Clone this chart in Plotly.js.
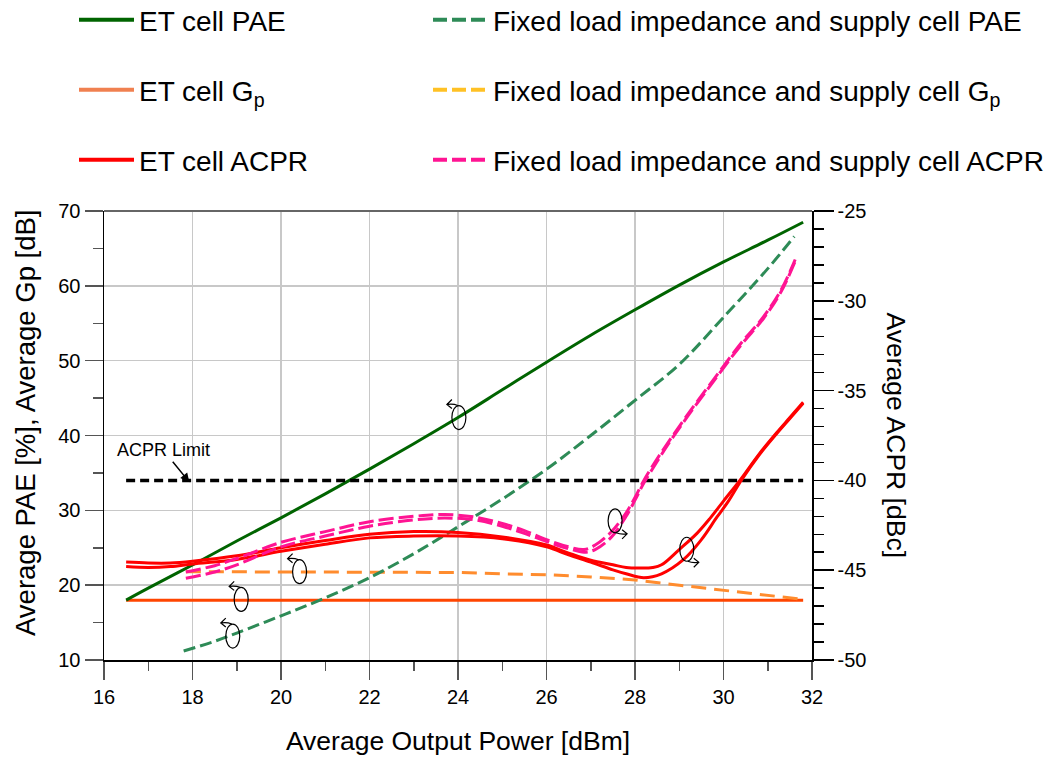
<!DOCTYPE html>
<html>
<head>
<meta charset="utf-8">
<script src="https://cdn.plot.ly/plotly-3.0.1.min.js"></script>
<style>html,body{margin:0;padding:0;background:#fff;}#chart{width:1062px;height:758px;}</style>
</head>
<body>
<div id="chart"></div>
<script>
// ---------- data ----------
const etPaeX = [16.5, 17, 18, 19, 20, 21, 22, 23, 24, 25, 26, 27, 28, 29, 30, 31, 31.8];
const etPaeY = [18.0, 19.6, 22.7, 25.9, 29.0, 32.2, 35.5, 38.9, 42.4, 46.1, 49.8, 53.4, 56.8, 60.1, 63.2, 66.1, 68.5];

const fixPaeX = [17.8, 18.5, 19, 20, 21, 22, 23, 24, 25, 26, 27, 28, 29, 30, 31, 31.6];
const fixPaeY = [11.2, 12.5, 13.6, 15.9, 18.3, 21.0, 24.2, 27.8, 31.5, 35.5, 40.0, 44.7, 49.5, 55.8, 62.3, 66.6];

const etGpX = [16.5, 31.8];
const etGpY = [18.0, 18.0];

const fixGpX = [17.85, 19, 20, 21, 22, 23, 24, 25, 26, 27, 28, 29, 30, 31, 31.8];
const fixGpY = [21.8, 21.8, 21.8, 21.8, 21.8, 21.8, 21.7, 21.5, 21.4, 21.1, 20.7, 20.0, 19.3, 18.6, 18.1];

const etAcprAX = [16.5, 17, 17.5, 18, 19, 20, 21, 22, 23, 24, 25, 26, 26.5, 27, 27.5, 27.8, 28.1, 28.4, 28.6, 29, 29.4, 29.7, 30, 30.4, 30.8, 31.2, 31.5, 31.8];
const etAcprAY = [-44.55, -44.6, -44.6, -44.5, -44.2, -43.75, -43.35, -43.0, -42.85, -42.9, -43.15, -43.6, -44.05, -44.45, -44.7, -44.85, -44.88, -44.85, -44.7, -43.85, -42.95, -42.1, -41.15, -39.9, -38.55, -37.35, -36.5, -35.65];

const etAcprBX = [16.5, 17, 17.5, 18, 19, 20, 21, 22, 23, 24, 25, 26, 26.5, 27, 27.5, 27.8, 28.2, 28.6, 29.1, 29.5, 29.85, 30.1, 30.4, 30.8, 31.2, 31.5, 31.8];
const etAcprBY = [-44.8, -44.85, -44.8, -44.65, -44.4, -43.95, -43.55, -43.2, -43.1, -43.1, -43.25, -43.7, -44.15, -44.55, -44.98, -45.2, -45.42, -45.2, -44.4, -43.3, -42.05, -41.2, -40.0, -38.6, -37.4, -36.55, -35.7];

const fixAcprX = [17.85, 18.5, 19, 20, 21, 22, 23, 23.7, 24.4, 25, 25.5, 26, 26.5, 26.85, 27.1, 27.45, 27.8, 28.0, 28.2, 28.5, 28.8, 29.2, 29.8, 30.4, 30.9, 31.3, 31.62];
const fixAcprAY = [-45.1, -44.75, -44.35, -43.45, -42.85, -42.3, -42.0, -41.9, -42.05, -42.4, -42.8, -43.3, -43.7, -43.85, -43.6, -42.9, -41.8, -40.95, -40.0, -38.8, -37.7, -36.3, -34.3, -32.35, -30.9, -29.4, -27.7];
const fixAcprBY = [-45.45, -45.1, -44.7, -43.7, -43.1, -42.55, -42.2, -42.1, -42.2, -42.55, -42.95, -43.4, -43.8, -44.0, -43.85, -43.2, -42.0, -41.1, -40.15, -38.95, -37.8, -36.4, -34.4, -32.45, -31.0, -29.5, -27.8];

const limitX = [16.5, 31.8];
const limitY = [-40, -40];

const xTicks = [16, 18, 20, 22, 24, 26, 28, 30, 32];
const leftTicks = [10, 20, 30, 40, 50, 60, 70];
const rightTicks = [-50, -45, -40, -35, -30, -25];
const rightTickText = ['-50', '-45', '-40', '-35', '-30', '-25'];

const legendNames = [
  'ET cell PAE', 'Fixed load impedance and supply cell PAE',
  'ET cell G<sub>p</sub>', 'Fixed load impedance and supply cell G<sub>p</sub>',
  'ET cell ACPR', 'Fixed load impedance and supply cell ACPR'
];

// ---------- styling ----------
const FONT = 'Liberation Sans, Arial, sans-serif';
const C = {
  etPae: '#006400', fixPae: '#2E8B57',
  etGp: '#FF4500', fixGp: '#FF8C2E',
  etAcpr: '#FF0000', fixAcpr: '#FF1493'
};
const LEG = ['#006400', '#2E8B57', '#F08050', '#FFC125', '#FF0000', '#FF1493'];
const LEGDASH = ['solid', 'dash', 'solid', 'dash', 'solid', 'dash'];

const traces = [
  {x: etGpX, y: etGpY, mode: 'lines', line: {color: C.etGp, width: 3}, showlegend: false},
  {x: fixGpX, y: fixGpY, mode: 'lines', line: {color: C.fixGp, width: 3, dash: '15px,8px'}, showlegend: false},
  {x: fixPaeX, y: fixPaeY, mode: 'lines', line: {color: C.fixPae, width: 3, dash: '12px,5px', shape: 'spline'}, showlegend: false},
  {x: etPaeX, y: etPaeY, mode: 'lines', line: {color: C.etPae, width: 3, shape: 'spline'}, showlegend: false},
  {x: limitX, y: limitY, yaxis: 'y2', mode: 'lines', line: {color: '#000', width: 3.5, dash: '9px,5px'}, showlegend: false},
  {x: etAcprAX, y: etAcprAY, yaxis: 'y2', mode: 'lines', line: {color: C.etAcpr, width: 3, shape: 'spline'}, showlegend: false},
  {x: etAcprBX, y: etAcprBY, yaxis: 'y2', mode: 'lines', line: {color: C.etAcpr, width: 3, shape: 'spline'}, showlegend: false},
  {x: fixAcprX, y: fixAcprAY, yaxis: 'y2', mode: 'lines', line: {color: C.fixAcpr, width: 3, dash: '15px,5px', shape: 'spline'}, showlegend: false},
  {x: fixAcprX, y: fixAcprBY, yaxis: 'y2', mode: 'lines', line: {color: C.fixAcpr, width: 3, dash: '15px,5px', shape: 'spline'}, showlegend: false}
];

// legend entries: one legend per entry, laid out as 3 rows x 2 columns
const legendIds = ['legend', 'legend2', 'legend3', 'legend4', 'legend5', 'legend6'];
const legendColPx = [74, 428];
const legendRowPx = [20, 90, 160];
legendNames.forEach((n, i) => {
  traces.push({x: [null], y: [null], mode: 'lines', name: n, legend: legendIds[i],
    line: {color: LEG[i], width: 4, dash: LEGDASH[i] === 'dash' ? '14px,5px' : 'solid'}, showlegend: true});
});

function legendAt(xPx, yPx) {
  return {orientation: 'h', xref: 'container', yref: 'container', x: xPx / 1062, y: 1 - yPx / 758,
    xanchor: 'left', yanchor: 'middle', itemwidth: 55,
    bgcolor: 'rgba(0,0,0,0)', font: {family: FONT, size: 28, color: '#000'}};
}

// rotating-arrow markers
const markers = [
  {x: 24.02, y: 42.4, dir: 'L'},
  {x: 20.42, y: 21.8, dir: 'L'},
  {x: 19.1, y: 18.1, dir: 'L'},
  {x: 18.91, y: 13.2, dir: 'L'},
  {x: 27.55, y: 28.6, dir: 'R'},
  {x: 29.17, y: 24.8, dir: 'R'}
];
const shapes = [
  {type: 'line', xref: 'paper', yref: 'paper', x0: 0, x1: 1, y0: 1, y1: 1, line: {color: '#666', width: 2}}
];
markers.forEach(m => {
  const base = {xref: 'x', yref: 'y', xsizemode: 'pixel', ysizemode: 'pixel', xanchor: m.x, yanchor: m.y,
    line: {color: '#000', width: 1.2}};
  shapes.push(Object.assign({type: 'circle', x0: -7, x1: 7, y0: -12, y1: 12}, base));
  const p = m.dir === 'L'
    ? 'M-1,12 Q-6,14 -12,13 M-7,18 L-12,13 L-7,9'
    : 'M1,-12 Q6,-14 12,-13 M7,-9 L12,-13 L7,-18';
  shapes.push(Object.assign({type: 'path', path: p}, base));
});

const axisCommon = {
  showline: true, linecolor: '#000', linewidth: 1.5, zeroline: false,
  ticks: 'outside', tickcolor: '#555', tickwidth: 1.5,
  tickfont: {family: FONT, size: 20, color: '#000'}
};

const layout = {
  width: 1062, height: 758,
  margin: {l: 104, r: 250, t: 211, b: 98},
  paper_bgcolor: '#fff', plot_bgcolor: '#fff',
  font: {family: FONT, color: '#000'},
  showlegend: true,
  xaxis: Object.assign({}, axisCommon, {
    range: [16, 32], tickmode: 'array', tickvals: xTicks, ticklen: 18,
    showgrid: true, gridcolor: '#C8C8C8', gridwidth: 1.5,
    minor: {dtick: 1, tick0: 16, ticklen: 9, tickcolor: '#555', tickwidth: 1.5, showgrid: false},
    title: {text: 'Average Output Power [dBm]', font: {family: FONT, size: 26.5, color: '#000'}, standoff: 25}
  }),
  yaxis: Object.assign({}, axisCommon, {
    range: [10, 70], tickmode: 'array', tickvals: leftTicks, ticklen: 18,
    showgrid: true, gridcolor: '#C8C8C8', gridwidth: 1.5,
    minor: {dtick: 5, tick0: 10, ticklen: 10, tickcolor: '#555', tickwidth: 1.5, showgrid: false}
  }),
  yaxis2: Object.assign({}, axisCommon, {
    overlaying: 'y', side: 'right', range: [-50, -25],
    tickmode: 'array', tickvals: rightTicks, ticktext: rightTickText, ticklen: 20, tickcolor: '#000',
    showgrid: false,
    minor: {dtick: 1, tick0: -50, ticklen: 10, tickcolor: '#000', tickwidth: 1.5, showgrid: false}
  }),
  shapes: shapes,
  annotations: [
    {xref: 'paper', yref: 'paper', x: (25 - 104) / 708, y: (660 - 423) / 449, text: 'Average PAE [%], Average Gp [dB]', textangle: -90,
     showarrow: false, font: {family: FONT, size: 27.5, color: '#000'}, xanchor: 'center', yanchor: 'middle'},
    {xref: 'paper', yref: 'paper', x: 1 + 84 / 708, y: 0.5, text: 'Average ACPR [dBc]', textangle: 90,
     showarrow: false, font: {family: FONT, size: 26.5, color: '#000'}, xanchor: 'center', yanchor: 'middle'},
    {xref: 'x', yref: 'y2', x: 17.93, y: -40.1, text: 'ACPR Limit', showarrow: true,
     ax: -26, ay: -32, arrowhead: 2, arrowsize: 1.2, arrowwidth: 1.5, arrowcolor: '#000',
     font: {family: FONT, size: 18, color: '#000'}}
  ]
};
legendIds.forEach((id, i) => {
  layout[id] = legendAt(legendColPx[i % 2], legendRowPx[Math.floor(i / 2)]);
});

Plotly.newPlot('chart', traces, layout, {displayModeBar: false, staticPlot: true});
</script>
</body>
</html>
